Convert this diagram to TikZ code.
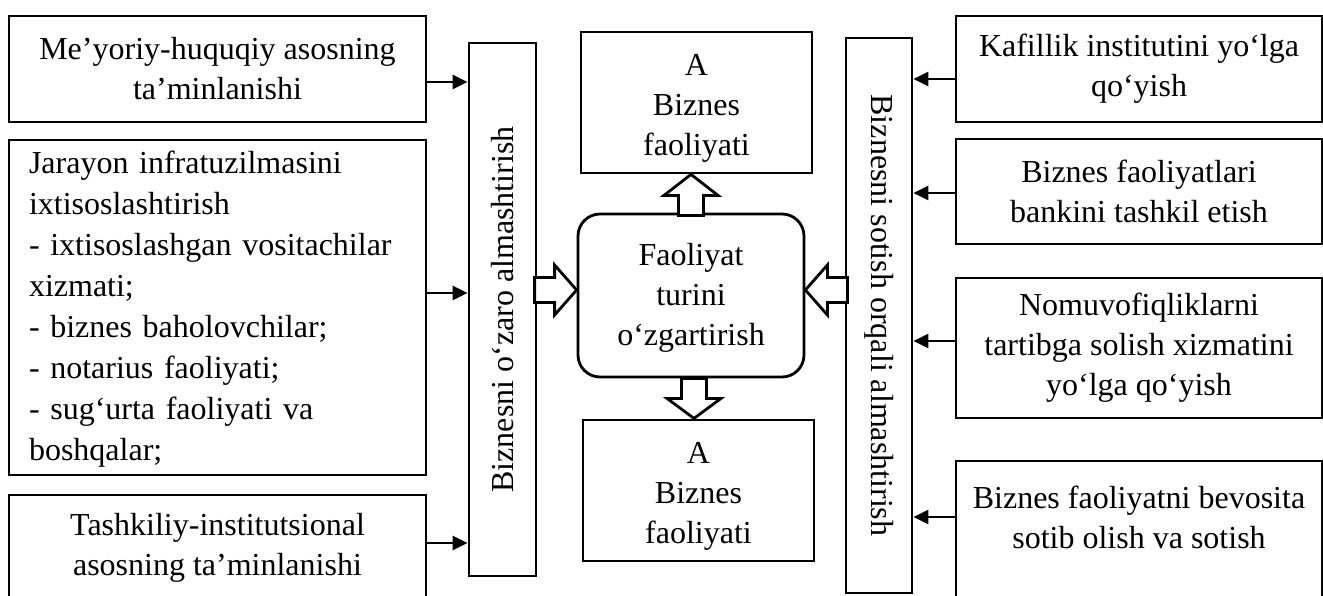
\documentclass[tikz,border=0pt]{standalone}
\usepackage{fontspec}
\setmainfont{Liberation Serif}
\usetikzlibrary{arrows.meta,calc}
\begin{document}
\begin{tikzpicture}[x=1pt,y=-1pt,
  box/.style={draw, line width=2.8pt, inner sep=0pt, align=center, font=\fontsize{32}{40}\selectfont},
  txt/.style={inner sep=0pt, align=center, font=\fontsize{32}{40}\selectfont},
  arr/.style={line width=2.8pt, -{Triangle[length=15pt,width=14pt]}},
  blk/.style={draw, line width=2.8pt, fill=white, line join=miter}]
\useasboundingbox (0,0) rectangle (1323,595);
% left boxes
\node[box, minimum width=417, minimum height=106] (L1) at (217.5,69) {Me’yoriy-huquqiy asosning\\ta’minlanishi};
\node[box, minimum width=417, minimum height=335, align=left, text width=377, inner xsep=20pt,
  font=\fontsize{32}{41}\selectfont] (L2) at (217.5,307.5)
  {\rule{0pt}{26pt}Jarayon infratuzilmasini\\ixtisoslashtirish\\- ixtisoslashgan vositachilar\\xizmati;\\- biznes baholovchilar;\\- notarius faoliyati;\\- sug‘urta faoliyati va\\boshqalar;};
\node[box, minimum width=417, minimum height=105] (L3) at (217.5,547.5) {Tashkiliy-institutsional\\asosning ta’minlanishi};
% vertical bars
\node[box, minimum width=67, minimum height=533] (bar1) at (502.5,309.5) {};
\node[txt, rotate=90] (bar1t) at (bar1.center) {Biznesni o‘zaro almashtirish};
\node[box, minimum width=66, minimum height=555] (bar2) at (879,315.5) {};
\node[txt, rotate=-90] (bar2t) at (bar2.center) {Biznesni sotish orqali almashtirish};
% centre
\node[box, minimum width=231, minimum height=141] (T) at (696.5,102.5) {\rule{0pt}{33pt}A\\Biznes\\faoliyati};
\node[box, minimum width=226, minimum height=163, rounded corners=22pt] (C) at (691,295.5) {\rule{0pt}{26pt}Faoliyat\\turini\\o‘zgartirish};
\node[box, minimum width=231, minimum height=141] (B) at (698.5,490.5) {\rule{0pt}{33pt}A\\Biznes\\faoliyati};
% right boxes
\node[box, minimum width=366, minimum height=106] (R1) at (1139,69) {Kafillik institutini yo‘lga\\qo‘yish};
\node[box, minimum width=366, minimum height=105] (R2) at (1139,191.5) {Biznes faoliyatlari\\bankini tashkil etish};
\node[box, minimum width=366, minimum height=140] (R3) at (1139,348) {Nomuvofiqliklarni\\tartibga solish xizmatini\\yo‘lga qo‘yish};
\node[box, minimum width=366, minimum height=159] (R4) at (1139,540.5) {};
\node[txt] (R4t) at (1139,517) {Biznes faoliyatni bevosita\\sotib olish va sotish};
% thin arrows left
\coordinate (a1) at ([yshift=-13pt]L1.east);
\coordinate (a2) at ([yshift=14.5pt]L2.east);
\coordinate (a3) at ([yshift=4.5pt]L3.east);
\draw[arr] (a1) -- (a1 -| bar1.west);
\draw[arr] (a2) -- (a2 -| bar1.west);
\draw[arr] (a3) -- (a3 -| bar1.west);
% thin arrows right
\coordinate (b1) at ([yshift=-10pt]R1.west);
\coordinate (b2) at ([yshift=-1.5pt]R2.west);
\coordinate (b3) at ([yshift=7pt]R3.west);
\coordinate (b4) at (R4.west |- R4t.center);
\draw[arr] (b1) -- (b1 -| bar2.east);
\draw[arr] (b2) -- (b2 -| bar2.east);
\draw[arr] (b3) -- (b3 -| bar2.east);
\draw[arr] (b4) -- (b4 -| bar2.east);
% block arrows
\coordinate (tu) at (C.north |- T.south);
\draw[blk] (tu) -- ++(27,21) -- ++(-14.5,0) -- ++(0,20) -- ++(-25,0) -- ++(0,-20) -- ++(-14.5,0) -- cycle;
\coordinate (td) at ([xshift=3pt,yshift=-40pt]C.south);
\draw[blk] (td) -- ++(-27,-20) -- ++(14.5,0) -- ++(0,-20) -- ++(25,0) -- ++(0,20) -- ++(14.5,0) -- cycle;
\coordinate (tl) at ([yshift=5.5pt]C.west);
\draw[blk] (tl) -- ++(-22,-25) -- ++(0,12.5) -- ++(-20,0) -- ++(0,25) -- ++(20,0) -- ++(0,12.5) -- cycle;
\coordinate (tr) at ([yshift=5.5pt]C.east);
\draw[blk] (tr) -- ++(22,-25) -- ++(0,12.5) -- ++(20,0) -- ++(0,25) -- ++(-20,0) -- ++(0,12.5) -- cycle;
\end{tikzpicture}
\end{document}
